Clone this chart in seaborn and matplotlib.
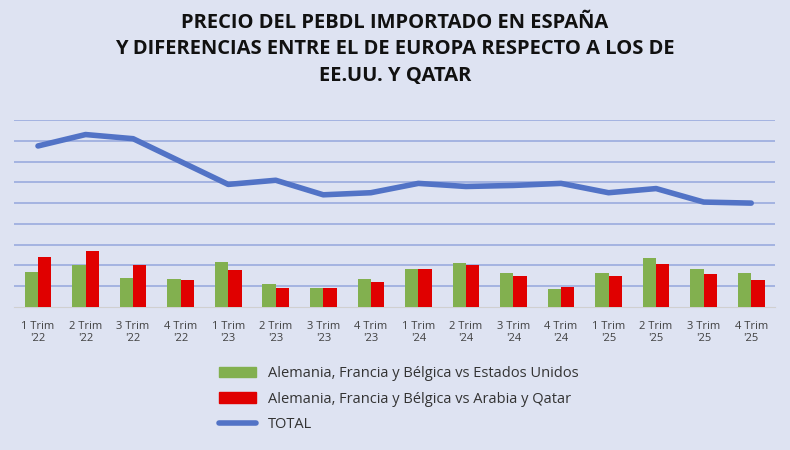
import pandas as pd
import seaborn as sns
import matplotlib.pyplot as plt
import numpy as np
from matplotlib.lines import Line2D
from matplotlib.patches import Patch

labels = ["1 Trim\n'22", "2 Trim\n'22", "3 Trim\n'22", "4 Trim\n'22",
          "1 Trim\n'23", "2 Trim\n'23", "3 Trim\n'23", "4 Trim\n'23",
          "1 Trim\n'24", "2 Trim\n'24", "3 Trim\n'24", "4 Trim\n'24",
          "1 Trim\n'25", "2 Trim\n'25", "3 Trim\n'25", "4 Trim\n'25"]
usa = [1.7, 2.0, 1.4, 1.35, 2.15, 1.1, 0.9, 1.35, 1.85, 2.1, 1.65, 0.85, 1.65, 2.35, 1.85, 1.65]
qatar = [2.4, 2.7, 2.0, 1.3, 1.8, 0.9, 0.9, 1.2, 1.85, 2.0, 1.5, 0.95, 1.5, 2.05, 1.6, 1.3]
total = [7.75, 8.3, 8.1, 7.0, 5.9, 6.1, 5.4, 5.5, 5.95, 5.8, 5.85, 5.95, 5.5, 5.7, 5.05, 5.0]

bg = '#dee3f2'
green, red, blue = '#82b04f', '#e00000', '#5273c6'

sns.set_style('white')
plt.rcParams['font.family'] = ['Open Sans', 'DejaVu Sans']

fig = plt.figure(figsize=(7.9, 4.5), dpi=100, facecolor=bg)
ax = fig.add_axes([0.018, 1 - 307 / 450, 0.963, 187 / 450])
ax.set_facecolor(bg)

df = pd.DataFrame({'q': labels * 2,
                   'v': usa + qatar,
                   's': ['usa'] * 16 + ['qat'] * 16})
sns.barplot(data=df, x='q', y='v', hue='s', palette=[green, red], ax=ax,
            width=0.56, gap=0, legend=False, zorder=3, saturation=1,
            linewidth=0, edgecolor='none')
x = np.arange(len(labels))
sns.lineplot(x=x, y=total, ax=ax, color=blue, linewidth=4, zorder=4)

ax.set_xlim(-0.5, 15.5)
ax.set_ylim(0, 9)
ax.set_yticks(np.arange(1, 10))
ax.yaxis.grid(True, color='#9aabde', linewidth=1.2, zorder=0)
ax.tick_params(axis='y', left=False, labelleft=False)
ax.tick_params(axis='x', length=0, labelsize=8, colors='#404040', pad=10)
ax.set_xticks(x)
ax.set_xticklabels(labels, multialignment='center')
ax.set_xlabel('')
ax.set_ylabel('')
for s in ['left', 'right', 'top']:
    ax.spines[s].set_visible(False)
ax.spines['bottom'].set_color('#d0d0d0')

fig.text(0.5, 0.97, 'PRECIO DEL PEBDL IMPORTADO EN ESPAÑA\nY DIFERENCIAS ENTRE EL DE EUROPA RESPECTO A LOS DE\nEE.UU. Y QATAR',
         ha='center', va='top', fontsize=14.5, fontweight='bold', linespacing=1.4, color='#111111')

handles = [Patch(color=green), Patch(color=red), Line2D([], [], color=blue, linewidth=4)]
names = ['Alemania, Francia y Bélgica vs Estados Unidos',
         'Alemania, Francia y Bélgica vs Arabia y Qatar', 'TOTAL']
fig.legend(handles, names, loc='upper left', bbox_to_anchor=(0.26, 0.215),
           frameon=False, fontsize=10.5, handlelength=2.6, labelspacing=0.7,
           labelcolor='#333333')

fig.savefig('out.png', dpi=100, facecolor=bg)
